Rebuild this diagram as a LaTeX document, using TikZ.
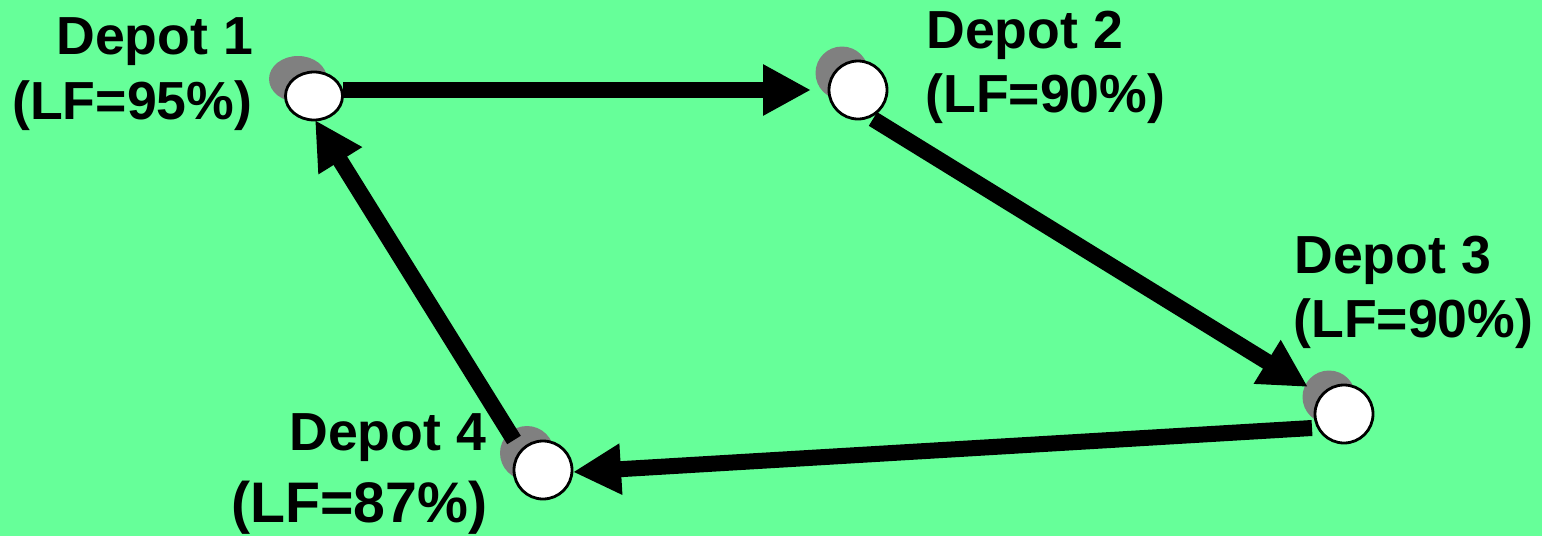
\documentclass[tikz,border=0pt]{standalone}
\usepackage{fontspec}
\setmainfont{Liberation Sans}
\usetikzlibrary{arrows.meta,calc,shapes.geometric}
\definecolor{bggreen}{HTML}{66FF99}
\definecolor{shadowgray}{HTML}{808080}
\begin{document}
\begin{tikzpicture}[x=0.5pt,y=-0.5pt,
  shadowdot/.style={shape=circle,fill=shadowgray,inner sep=0pt},
  depotdot/.style={shape=circle,fill=white,draw=black,line width=1.4pt,inner sep=0pt,minimum size=29pt},
  route/.style={line width=8pt,-{Triangle[length=24pt,width=24pt]}},
  lbl/.style={inner sep=0pt,font=\bfseries\fontsize{26.8}{32}\selectfont}]
  % background
  \fill[bggreen] (0,0) rectangle (1542,536);
  \useasboundingbox (0,0) rectangle (1542,536);

  % shadows behind the depots
  \node[shadowdot,shape=ellipse,minimum width=29pt,minimum height=23pt] (g1) at (298,79) {};
  \node[shadowdot,minimum size=26.5pt] (g2) at (842,73) {};
  \node[shadowdot,minimum size=26.5pt] (g3) at (1329,397) {};
  \node[shadowdot,minimum size=27pt] (g4) at (527,453) {};

  % depot positions (the markers are drawn after the routes)
  \coordinate (c1) at (314,96);
  \coordinate (c2) at (858,90);
  \coordinate (c3) at (1344,414);
  \coordinate (c4) at (543,470);

  % routes
  \draw[route] ($(c1)+(29,-6)$) -- ($(c2)+(-47,0)$);
  \draw[route] ($(c2)+(15,29)$) -- ($(c3)+(-36,-27)$);
  \draw[route] ($(c3)+(-32,14)$) -- ($(c4)+(30,2)$);
  \draw[route] ($(c4)+(-29,-30)$) -- ($(c1)+(1,24)$);

  % depots
  \node[depotdot,shape=ellipse,minimum width=28.5pt,minimum height=24pt] (d1) at (c1) {};
  \node[depotdot] (d2) at (c2) {};
  \node[depotdot] (d3) at (c3) {};
  \node[depotdot] (d4) at (c4) {};

  % labels
  \node[lbl,anchor=base west] (l1a) at (56,54) {Depot 1};
  \node[lbl,anchor=base west] (l1b) at (12,119) {(LF=95\%)};
  \node[lbl,anchor=base west] (l2a) at (926,48) {Depot 2};
  \node[lbl,anchor=base west] (l2b) at (925,112) {(LF=90\%)};
  \node[lbl,anchor=base west] (l3a) at (1294,273) {Depot 3};
  \node[lbl,anchor=base west] (l3b) at (1293,337) {(LF=90\%)};
  \node[lbl,anchor=base west] (l4a) at (289,450) {Depot 4};
  \node[lbl,anchor=base west,font=\bfseries\fontsize{28.6}{34}\selectfont] (l4b) at (231,522) {(LF=87\%)};
\end{tikzpicture}
\end{document}
